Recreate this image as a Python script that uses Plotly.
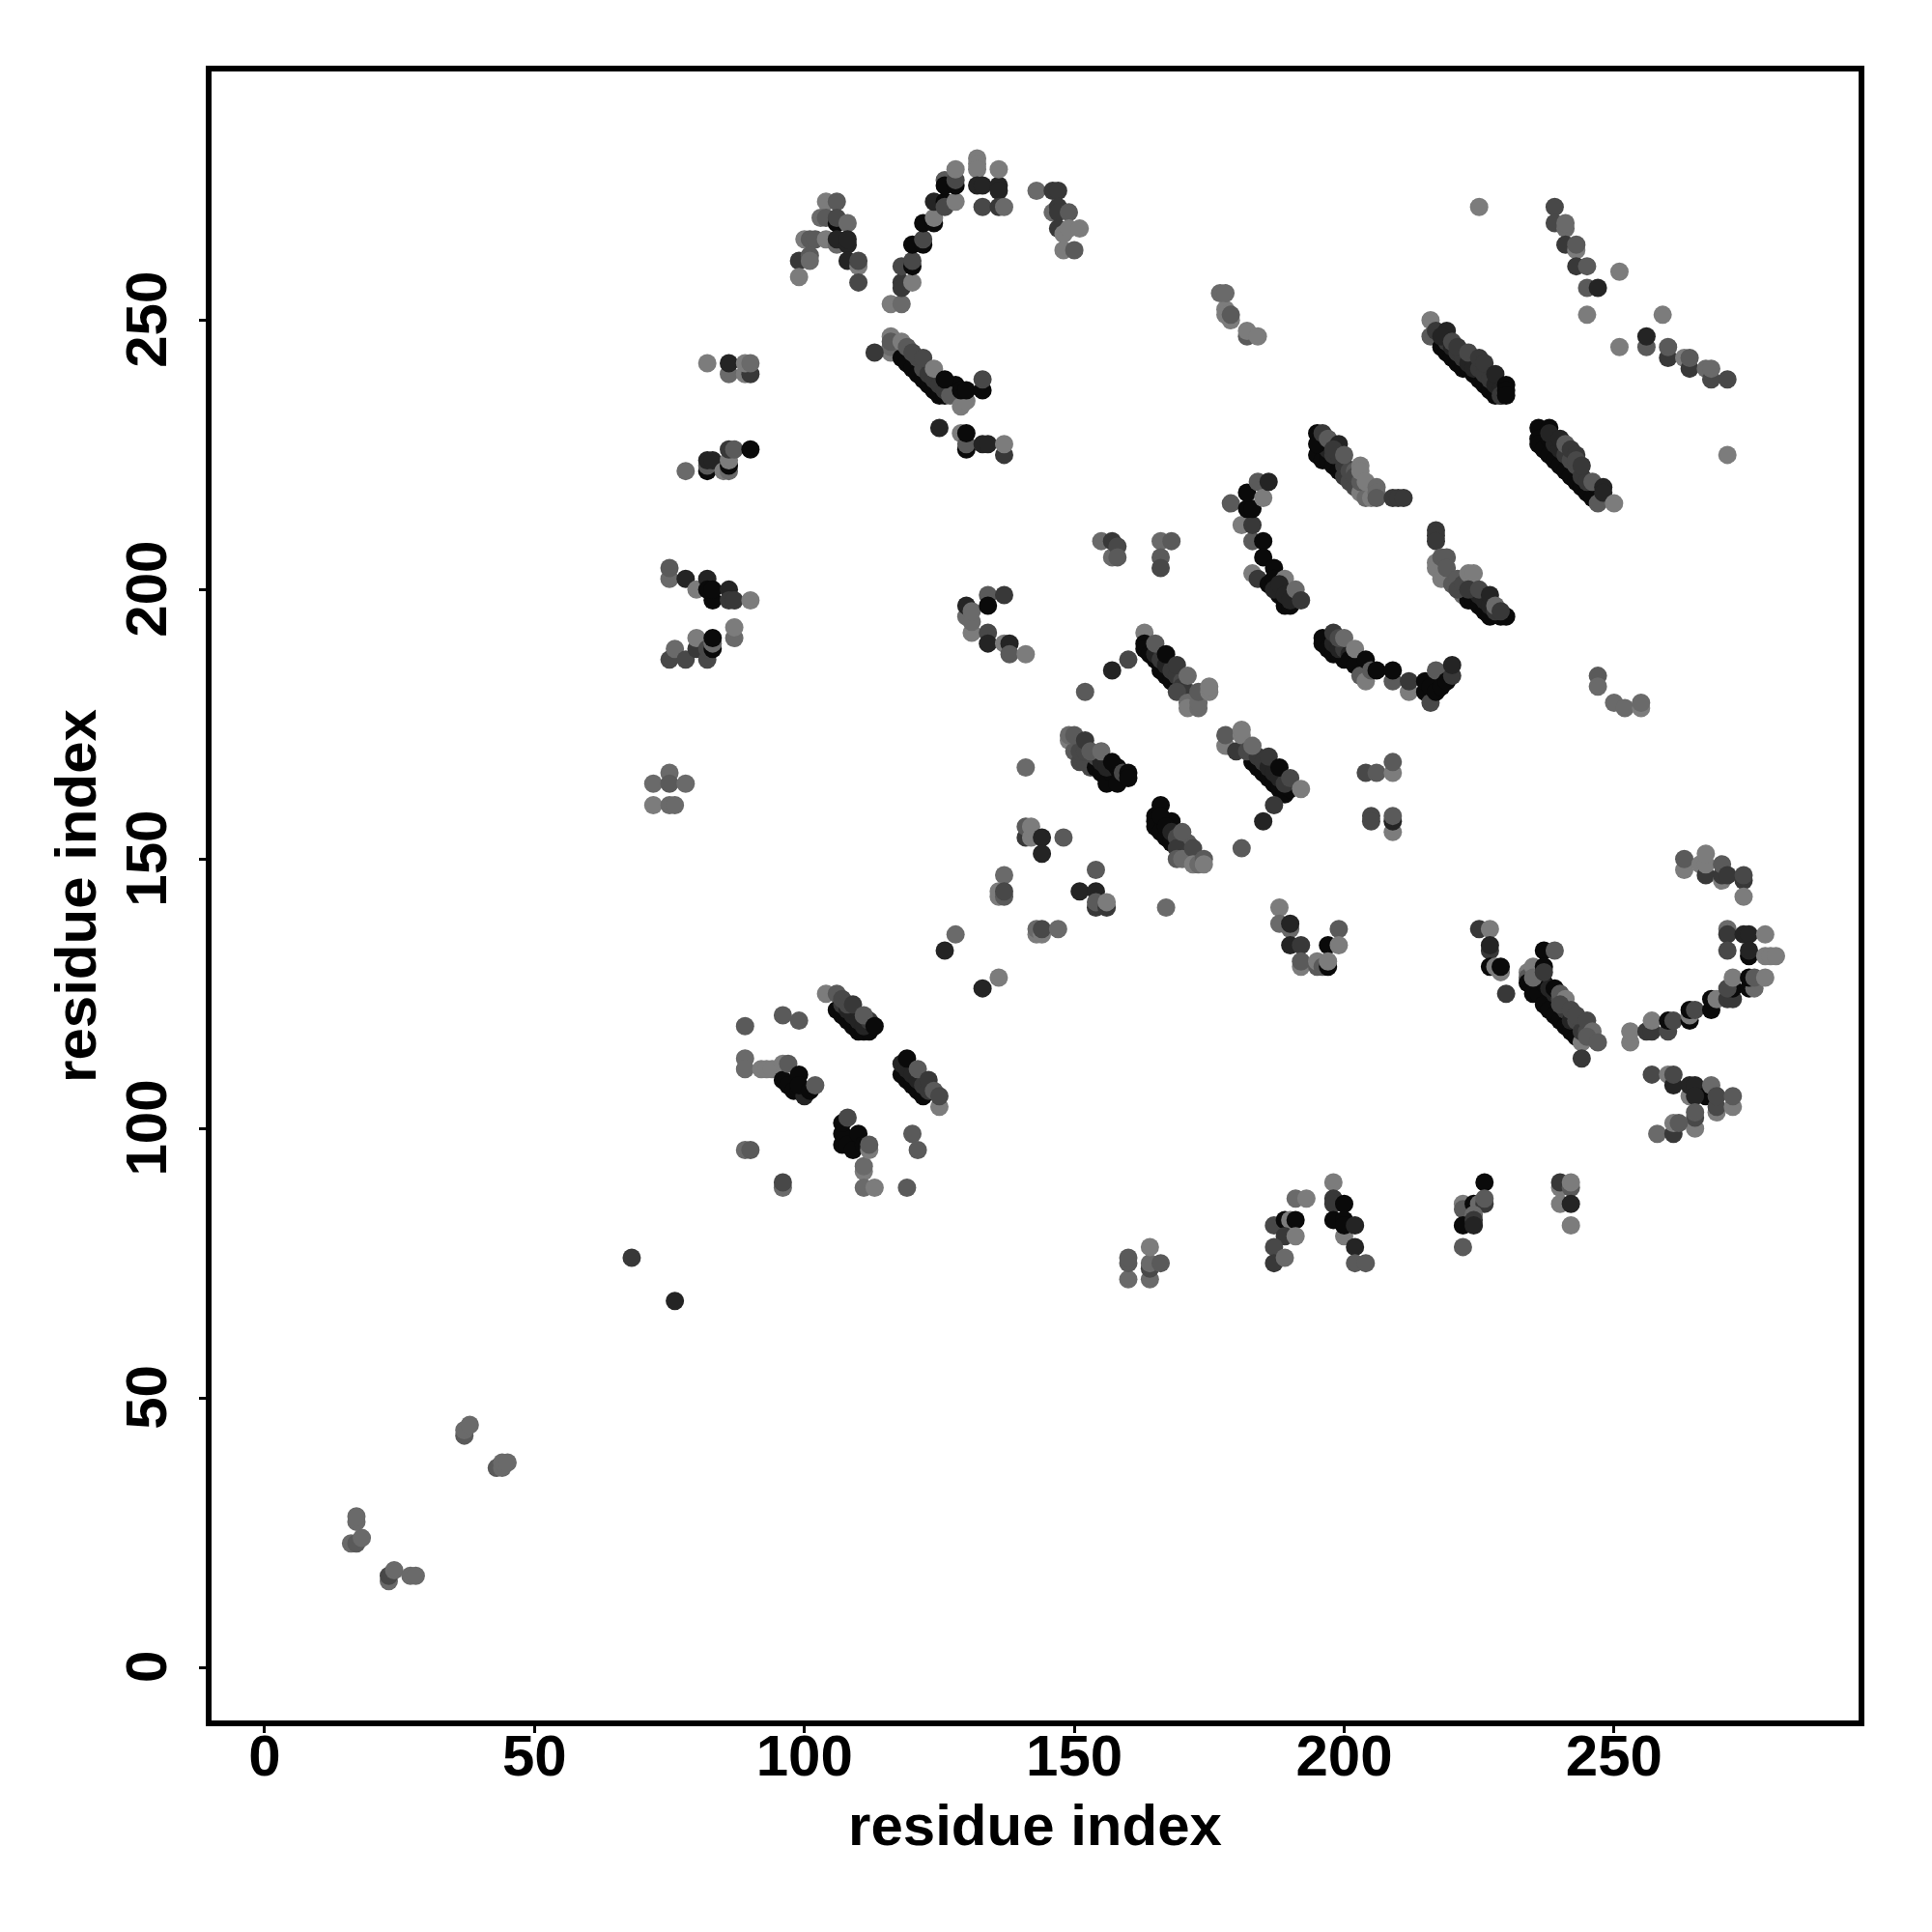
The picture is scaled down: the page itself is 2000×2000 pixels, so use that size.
import plotly.graph_objects as go

GRAYS = ["#0a0a0a", "#242424", "#383838", "#484848", "#5a5a5a", "#6a6a6a", "#7c7c7c"]
TICKS = [0, 50, 100, 150, 200, 250]
AXIS_LABEL = "residue index"

a_x = [104,106,103,104,100,101,102,104,99,101,101,99,106,106,108,106,106,108,108,108,110,110,110]
a_y = [272,272,269,269,265,265,265,265,261,262,261,258,268,269,268,264,265,264,265,261,260,261,257]
a_s = [6,4,5,4,6,4,4,6,2,4,5,6,0,3,5,5,1,1,1,1,6,3,3]
b_x = [116,118,118,118,120,118,120,120,120,122,122,122,124,124,124,126,126,128,126,126,128,128,128,132,132,132,132,133,136,136,136,133,136,137]
b_y = [253,253,257,256,257,260,260,261,264,264,265,268,268,269,272,272,271,272,276,275,275,276,278,280,279,278,275,275,275,274,278,271,271,271]
b_s = [6,5,2,2,6,3,0,3,0,0,3,0,0,6,1,0,3,6,4,0,0,3,6,6,6,6,1,1,1,1,6,3,2,5]
c_x = [143,146,147,146,147,147,149,147,148,149,151,148,150]
c_y = [274,274,274,270,271,270,270,267,266,267,267,263,263]
c_s = [5,2,2,5,2,2,4,2,6,6,6,6,4]
d_x = [116,116,118,119,120,121,122,123,124,125,126, 121,122,123,124,125,126,128,128, 113,116,116,118,119,120,122,124,127,126,129,130,129,130,133,133]
d_y = [244,245,243,242,241,240,239,238,237,236,236, 243,241,240,239,238,237,236,238, 244,247,246,246,245,244,243,241,236,239,234,235,237,237,237,239]
d_s = [6,5,0,0,0,0,0,0,0,0,0, 3,3,2,2,2,2,2,0, 2,6,4,6,4,3,3,6,4,0,6,6,0,0,0,3]
d2_x = [125,129,130,130,130,133,134,137,137]
d2_y = [230,229,226,227,229,227,227,225,227]
d2_s = [1,6,0,4,0,1,1,2,6]
e_x = [82,86,89,90,86,89,90]
e_y = [242,240,240,240,242,242,242]
e_s = [6,5,6,2,1,6,5]
e2_x = [78,82,82,82,83,85,86,86,86,86,87,90]
e2_y = [222,222,223,224,224,222,222,223,224,226,226,226]
e2_s = [5,0,4,1,1,6,5,0,6,2,4,0]
f_x = [75,75,78,80,82,83,82,83,86,86,87,90]
f_y = [202,204,202,200,202,198,200,200,200,198,198,198]
f_s = [5,4,1,6,1,0,0,0,1,2,2,6]
f2_x = [87,87,75,76,78,80,80,82,82,83,83,83]
f2_y = [191,193,187,189,187,189,191,187,189,189,190,191]
f2_s = [5,6,3,5,3,2,6,3,3,0,5,0]
g_x = [72,75,75,78,72,75,76]
g_y = [164,166,164,164,160,160,160]
g_s = [5,5,4,5,6,5,5]
h_x = [225,239,239,241,241,241,243,243,243,245,245,247,251,245,259,256,256,251,260,260,263,264,264,267,268,268,271,271]
h_y = [271,271,268,267,268,264,263,264,260,260,256,256,259,251,251,245,247,245,243,245,243,241,243,241,239,241,239,225]
h_s = [6,3,3,5,5,2,6,4,2,4,4,1,6,6,6,4,1,6,2,4,6,2,4,5,3,5,3,6]
i_x = [178,178,179,179,177,178,182,182,184]
i_y = [252,251,250,251,255,255,247,248,247]
i_s = [6,6,6,4,5,5,4,6,6]
j_x = [216,216,218,219,220,221,222,223,224,225,226,227,228,229, 219,220,221,222,223,224,225,226,227,228,229, 217,219,218,220,221,223,225,226,228,229,230,230,230]
j_y = [250,247,245,244,243,242,241,241,240,239,238,237,236,236, 246,245,244,243,242,241,241,240,239,238,237, 248,248,247,246,245,244,243,242,240,236,238,237,236]
j_s = [6,4,0,0,0,0,0,0,0,0,0,0,0,0, 2,1,2,2,1,1,2,2,2,1,1, 2,1,1,3,2,3,2,2,1,2,0,0,0]
k_x = [195,196,197,198,199,200,201,202,203,204,205, 197,198,199,200,201,202,202,203, 195,195,196,197,199,198,200,203,203,204,206,206,206,209,210,211]
k_y = [225,224,224,223,222,221,220,219,218,217,217, 226,225,225,223,222,222,221,220, 229,227,229,228,227,226,225,223,222,220,219,218,217,217,217,217]
k_s = [0,0,0,0,0,2,3,3,6,5,6, 1,2,2,2,3,4,3,4, 0,0,2,4,1,2,4,6,6,6,5,5,4,2,2,2]
l_x = [179,181,183,183,182,183,182,184,185,186,185,185,183,184,187,186,187,188,189,189,190,190,187,188,189,190,191,192]
l_y = [216,212,209,212,215,215,218,220,217,220,209,206,203,202,204,201,202,199,202,197,197,199,200,201,199,198,200,198]
l_s = [4,6,4,2,0,0,0,4,6,1,0,0,6,2,0,0,0,0,6,0,0,0,1,1,1,1,5,2]
m_x = [236,238,236,236,237,238,239,240,241,242,243,244,245,246, 238,239,240,241,242,243,244,245,238, 240,241,242,243,243,244,246,247,248,248,250]
m_y = [230,230,228,227,226,225,224,223,222,221,220,219,218,217, 228,227,226,225,224,223,221,220,229, 228,227,226,225,224,223,220,216,219,218,216]
m_s = [0,0,0,0,0,0,0,0,0,0,0,0,0,0, 0,1,1,2,3,3,2,2,1, 1,4,2,2,3,2,4,4,1,1,6]
n_x = [217,217,217,217,217,218,218,219,219,220,221,222,223,224,225,226,227,229,230, 221,222,224,225,226,227,228, 223,224,223,225,227,228,229]
n_y = [211,210,209,205,204,202,206,206,204,201,202,199,198,198,197,196,195,195,195, 200,201,200,199,198,197,196, 203,203,200,200,199,197,196]
n_s = [2,2,2,6,6,6,4,4,4,4,4,5,0,0,0,0,0,0,0, 3,3,2,1,1,1,2, 6,6,2,3,1,5,2]
o_x = [196,196,197,198,199,200, 198,199,200,201,202, 198,199,200,201,202,202,203,204,204,205,206,209,209,212,212,215,215,216,216,217,217,218,219,220,220]
o_y = [190,191,189,188,188,187, 190,189,189,188,187, 192,191,191,187,186,189,184,183,187,185,185,183,185,181,183,181,183,179,182,181,185,182,183,184,186]
o_s = [0,0,0,0,0,0, 1,1,2,1,1, 2,3,5,0,0,6,4,6,0,4,0,4,0,6,2,0,0,3,0,0,4,0,0,2,1]
p_x = [204,206,209,209,205,205,209,209,209]
p_y = [166,166,166,168,158,157,155,157,158]
p_s = [3,4,6,4,3,3,6,1,4]
q_x = [178,178,180,181,181,183,184,185,186,187,188,189,190, 182,184,185,186,187,188,189, 183,186,188,190,192,187,185]
q_y = [171,173,170,173,174,168,167,166,165,164,163,162,163, 170,169,168,167,166,165,164, 171,169,167,165,163,160,157]
q_s = [6,4,2,6,6,0,0,0,0,0,0,0,0, 3,2,2,1,1,1,2, 5,2,0,3,6,2,1]
r_x = [160,157,152,141,181]
r_y = [187,185,181,167,152]
r_s = [3,1,4,5,4]
s_x = [163,163,163,164,165,166,166,167,168,169,170, 165,166,167,168,169,170,171,170, 165,167,169,171,169,171,171,173,173,173,175,175]
s_y = [192,190,189,188,187,186,185,184,183,182,181, 188,187,186,185,184,183,181,182, 190,188,186,184,181,179,178,178,179,181,181,182]
s_s = [6,0,0,0,0,0,0,0,0,0,0, 1,2,1,2,2,3,3,2, 4,0,2,5,3,5,6,5,5,4,6,6]
t_x = [149,150,151,152,153,154,155,156,157,158, 151,152,154,155,156,158, 149,150,152,153,155,157,159,160,160]
t_y = [172,170,168,168,167,167,166,164,166,164, 170,170,169,168,167,167, 173,173,172,170,170,168,166,166,165]
t_s = [6,4,3,3,3,0,0,0,0,0, 3,3,3,1,1,0, 5,4,2,4,5,0,3,0,0]
u_x = [165,165,165,166,167,168,166,168, 166,167,168,169,170,171,171, 169,170,169,170,172,172,173,174,174]
u_y = [158,157,156,155,154,153,160,157, 158,156,155,154,153,151,153, 152,155,150,150,152,149,149,150,149]
u_s = [0,0,0,0,0,0,0,0, 0,0,1,3,3,3,4, 2,4,4,5,3,6,5,4,6]
v_x = [141,141,142,142,144,144,148]
v_y = [154,156,154,156,154,151,154]
v_s = [2,4,6,6,1,1,4]
w_x = [137,136,136,137,137]
w_y = [147,143,144,143,144]
w_s = [5,6,6,4,3]
x_x = [154,151,154,154,154,156,156]
x_y = [148,144,144,141,142,141,142]
x_s = [4,1,1,2,4,2,6]
y_x = [167,143,143,144,144,147]
y_y = [141,136,137,136,137,137]
y_s = [5,6,5,6,3,5]
z_x = [130,130,131,131,131,134,134,137,134,134,137,138,138,141]
z_y = [195,197,192,194,196,199,197,199,192,190,190,190,188,188]
z_s = [5,1,6,5,5,4,0,2,3,1,6,1,4,6]
aa_x = [155,157,157,158,158,166,168,166,166]
aa_y = [209,209,206,208,206,209,209,206,204]
aa_s = [5,2,5,3,4,5,4,4,3]
ab_x = [188,188,190,190,190,192,192,192,195,195,196,197,197,197,199,199]
ab_y = [141,138,137,138,134,134,130,131,130,131,130,130,134,131,137,134]
ab_s = [6,5,5,1,1,2,6,4,4,6,4,0,0,6,4,6]
ac_x = [225,227,227,227,227,228,229,229,230]
ac_y = [137,137,133,134,130,130,129,130,125]
ac_s = [2,6,2,1,0,6,6,0,2]
ad_x = [234,234,234,235,235,236,237,238,239,240,241,242,243,244, 236,237,238,239,240,241,242,243,244,244,245, 235,235,237,239,237,237,239,240,241,240,242,243,245,246,245,247,244]
ad_y = [129,128,127,126,125,125,123,122,121,120,119,118,117,116, 128,127,126,125,124,122,120,120,119,118,118, 130,128,133,133,130,129,126,125,124,123,122,121,120,118,117,116,113]
ad_s = [6,4,0,0,0,0,0,0,0,0,0,0,0,6, 1,0,1,1,3,2,1,3,3,2,3, 6,5,0,4,0,2,0,4,6,3,3,3,3,5,4,4,2]
ae_x = [253,253,256,257,257,260,260,261,264,264,264,265,268,268,269,271,272,272,271,272,275,276,275,276,278]
ae_y = [116,118,118,118,120,118,120,120,120,121,122,122,122,124,124,124,124,126,126,128,126,126,128,128,128]
ae_s = [6,6,2,2,6,3,0,3,0,6,0,3,0,0,6,2,2,0,3,6,0,5,0,4,6]
af_x = [271,271,271,274,275,278,275,275,278,279,280]
af_y = [137,136,133,136,136,136,132,133,132,132,132]
af_s = [5,2,3,1,1,6,0,1,6,6,6]
ag_x = [263,263,266,267,267,267,270,270,270,271,274,274,274]
ag_y = [148,150,149,147,149,151,146,147,149,147,146,147,143]
ag_s = [6,4,6,2,6,6,6,2,4,2,2,3,6]
ah_x = [257,260,261,261,264,264,265,267,265,268,269,269,269,272,272,265,265,265,258,261,261,262]
ah_y = [110,110,108,110,106,108,108,106,106,108,103,104,106,104,106,100,102,103,99,99,101,101]
ah_s = [3,6,1,3,6,1,1,0,1,5,6,3,3,6,4,6,3,4,5,2,6,4]
ai_x = [104,106,107,108,109,110,111,112, 107,108,109,110,111,112, 106,107,108,109,111,113]
ai_y = [125,122,121,120,119,118,118,118, 123,122,121,120,119,120, 125,124,123,123,121,119]
ai_s = [6,0,0,0,0,0,0,0, 2,1,1,1,1,2, 4,3,3,2,4,0]
aj_x = [96,99,89,89,89,92,93,94,96,96,97,98,99,100,97,99,99,101,102]
aj_y = [121,120,119,113,111,111,111,111,112,109,108,107,107,106,112,110,108,107,108]
aj_s = [4,4,4,5,5,6,6,6,6,0,0,0,0,1,4,0,0,0,4]
ak_x = [118,118,119,120,121,122, 119,120,121,122,123, 119,121,123,124,125,125]
ak_y = [110,112,109,108,107,106, 111,110,109,108,107, 113,111,109,107,104,106]
ak_s = [0,1,0,0,0,0, 1,1,1,2,2, 0,4,2,4,6,3]
al_x = [107,107,107,108,108,109,110,111,111,111,111,112,112,113,120,121,119,89,90,96,96]
al_y = [97,99,101,102,97,96,99,97,92,93,89,96,97,89,99,96,89,96,96,89,90]
al_s = [0,0,0,3,0,0,0,0,6,5,5,6,4,6,4,4,4,5,4,5,3]
am_x = [68,76,126,128,133,136]
am_y = [76,68,133,136,126,128]
am_s = [2,1,1,5,1,6]
an_x = [160,160,160,164,164,164,166,164]
an_y = [72,75,76,72,74,75,75,78]
an_s = [5,4,4,5,3,5,4,6]
ao_x = [191,193,187,189,190,191,189,191,187,187,189]
ao_y = [87,87,82,83,83,83,80,80,78,75,76]
ao_s = [5,6,3,0,6,0,2,6,3,2,5]
ap_x = [198,198,198,200,198,200,200,200,202,202,202,204]
ap_y = [90,87,86,86,83,80,83,82,82,78,75,75]
ap_s = [6,2,2,0,0,6,0,0,1,1,4,4]
aq_x = [226,222,222,224,225,226,226,224,222,224,224,222]
aq_y = [90,86,85,86,86,86,87,84,82,83,82,78]
aq_s = [0,6,4,0,5,2,4,5,0,2,1,4]
ar_x = [240,240,242,242,240,242,242]
ar_y = [89,90,89,90,86,86,82]
ar_s = [6,2,4,6,6,1,6]
as_x = [16,17,18,17,17,23,23,24,27,28,37,37,38,43,44,44,45]
as_y = [23,23,24,27,28,16,17,18,17,17,43,44,45,37,37,38,38]
as_s = [5,4,5,5,5,5,3,5,5,5,4,5,5,4,5,5,5]
extra_x = [247,247,250,252,255,255]
extra_y = [184,182,179,178,178,179]
extra_s = [4,5,5,5,6,5]

groups = [
    (a_x,a_y,a_s),(b_x,b_y,b_s),(c_x,c_y,c_s),(d_x,d_y,d_s),(d2_x,d2_y,d2_s),(e_x,e_y,e_s),(e2_x,e2_y,e2_s),
    (f_x,f_y,f_s),(f2_x,f2_y,f2_s),(g_x,g_y,g_s),(h_x,h_y,h_s),(i_x,i_y,i_s),(j_x,j_y,j_s),(k_x,k_y,k_s),
    (l_x,l_y,l_s),(m_x,m_y,m_s),(n_x,n_y,n_s),(o_x,o_y,o_s),(p_x,p_y,p_s),(q_x,q_y,q_s),(r_x,r_y,r_s),
    (s_x,s_y,s_s),(t_x,t_y,t_s),(u_x,u_y,u_s),(v_x,v_y,v_s),(w_x,w_y,w_s),(x_x,x_y,x_s),(y_x,y_y,y_s),
    (z_x,z_y,z_s),(aa_x,aa_y,aa_s),(ab_x,ab_y,ab_s),(ac_x,ac_y,ac_s),(ad_x,ad_y,ad_s),(ae_x,ae_y,ae_s),
    (af_x,af_y,af_s),(ag_x,ag_y,ag_s),(ah_x,ah_y,ah_s),(ai_x,ai_y,ai_s),(aj_x,aj_y,aj_s),(ak_x,ak_y,ak_s),
    (al_x,al_y,al_s),(am_x,am_y,am_s),(an_x,an_y,an_s),(ao_x,ao_y,ao_s),(ap_x,ap_y,ap_s),(aq_x,aq_y,aq_s),
    (ar_x,ar_y,ar_s),(as_x,as_y,as_s),(extra_x,extra_y,extra_s),
]

X, Y, C = [], [], []
for gx, gy, gs in groups:
    for px, py, ps in zip(gx, gy, gs, strict=True):
        X.append(px); Y.append(py); C.append(GRAYS[ps])

fig = go.Figure(go.Scatter(x=X, y=Y, mode="markers", cliponaxis=False,
                           marker=dict(size=19, color=C, line=dict(width=0)),
                           showlegend=False))

FONT = "Liberation Sans"
axis = dict(tickmode="array", tickvals=TICKS,
            ticks="outside", ticklen=7, tickwidth=3, tickcolor="black",
            showline=True, mirror=True, linewidth=6, linecolor="black",
            showgrid=False, zeroline=False,
            tickfont=dict(family=FONT, size=60, color="black", weight="bold"))

fig.update_layout(
    width=1992, height=1992,
    margin=dict(l=211, r=76, t=66, b=219, pad=0, autoexpand=False),
    paper_bgcolor="white", plot_bgcolor="white",
    xaxis=dict(axis, range=[-9.84, 295.3], ticklabelstandoff=-28,
               ticktext=[str(t) for t in TICKS],
               title=dict(text=AXIS_LABEL, standoff=20,
                          font=dict(family=FONT, size=60, color="black", weight="bold"))),
    yaxis=dict(axis, range=[-9.86, 296.15], tickangle=-90, ticklabelstandoff=10,
               ticktext=[str(t) + "\u00a0" for t in TICKS],
               title=dict(text=AXIS_LABEL, standoff=1,
                          font=dict(family=FONT, size=60, color="black", weight="bold"))),
)
fig.write_html("out.html")
